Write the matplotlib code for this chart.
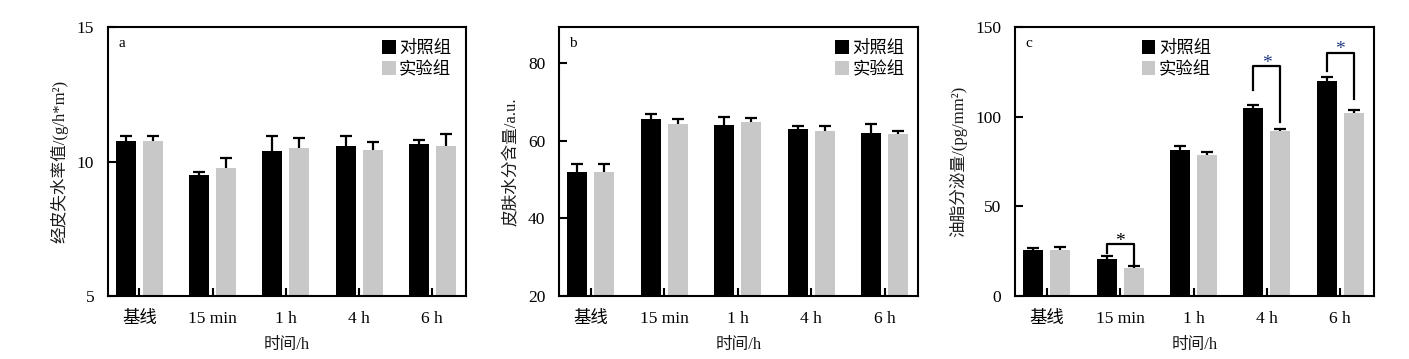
import numpy as np
import matplotlib.pyplot as plt

plt.rcParams["font.family"] = ["Liberation Serif", "Noto Sans CJK SC"]

# data
groups = ["基线", "15 min", "1 h", "4 h", "6 h"]
series = ["对照组", "实验组"]

tewl_ctrl = [10.75, 9.49, 10.39, 10.58, 10.64]
tewl_ctrl_err = [0.20, 0.13, 0.56, 0.37, 0.16]
tewl_exp = [10.75, 9.75, 10.50, 10.43, 10.58]
tewl_exp_err = [0.21, 0.39, 0.38, 0.29, 0.44]

water_ctrl = [51.9, 65.6, 64.0, 63.2, 62.0]
water_ctrl_err = [2.1, 1.4, 2.1, 0.6, 2.4]
water_exp = [51.9, 64.3, 64.8, 62.5, 61.7]
water_exp_err = [2.1, 1.4, 1.1, 1.3, 0.9]

sebum_ctrl = [25.6, 20.4, 81.2, 105.1, 119.8]
sebum_ctrl_err = [0.9, 2.0, 2.6, 1.3, 2.2]
sebum_exp = [25.6, 15.6, 78.6, 91.9, 101.8]
sebum_exp_err = [1.9, 1.3, 1.6, 1.3, 2.0]

# significance brackets on panel c
sig_idx = [1, 3, 4]
sig_top = [29.1, 128.3, 135.7]
sig_left_bottom = [23.8, 114.8, 125.3]
sig_right_bottom = [16.9, 97.1, 109.6]
sig_colors = ["black", "#1f3a80", "#1f3a80"]

panels = [
    dict(tag="a", ctrl=tewl_ctrl, ce=tewl_ctrl_err, exp=tewl_exp, ee=tewl_exp_err,
         ylabel="经皮失水率值/(g/h*m²)", ylim=(5, 15), yticks=[5, 10, 15],
         left=108, right=466, leg_x=0.765),
    dict(tag="b", ctrl=water_ctrl, ce=water_ctrl_err, exp=water_exp, ee=water_exp_err,
         ylabel="皮肤水分含量/a.u.", ylim=(20, 89.4), yticks=[20, 40, 60, 80],
         left=559.3, right=918.3, leg_x=0.768),
    dict(tag="c", ctrl=sebum_ctrl, ce=sebum_ctrl_err, exp=sebum_exp, ee=sebum_exp_err,
         ylabel="油脂分泌量/(pg/mm²)", ylim=(0, 150), yticks=[0, 50, 100, 150],
         left=1015.3, right=1374, leg_x=0.352),
]

W, H = 1409, 359
fig = plt.figure(figsize=(W / 100, H / 100), dpi=100)

x = np.arange(len(groups))
bw = 0.273
off = 0.185
gray = "#c8c8c8"

for p in panels:
    ax = fig.add_axes([p["left"] / W, 1 - 296 / H, (p["right"] - p["left"]) / W, 269 / H])
    ax.bar(x - off, p["ctrl"], bw, color="black", label=series[0], zorder=2)
    ax.bar(x + off, p["exp"], bw, color=gray, label=series[1], zorder=2)
    for xs, v, e in [(x - off, p["ctrl"], p["ce"]), (x + off, p["exp"], p["ee"])]:
        eb = ax.errorbar(xs, v, yerr=[np.zeros(len(v)), e], fmt="none", ecolor="black",
                         elinewidth=1.6, capsize=4, capthick=1.6, zorder=3)
        eb[1][0].set_visible(False)

    ax.set_xlim(-0.43, 4.46)
    ax.set_ylim(*p["ylim"])
    ax.set_yticks(p["yticks"])
    ax.set_xticks(x)
    ax.set_xticklabels(groups)
    ax.tick_params(axis="both", direction="in", length=6, width=1.5, labelsize=12.5, colors="black")
    ax.tick_params(axis="y", pad=10)
    ax.tick_params(axis="x", pad=11)
    for s in ax.spines.values():
        s.set_linewidth(1.5)

    ax.set_xlabel("时间/h", fontsize=12, color="#1a1a1a", labelpad=7)
    ax.set_ylabel(p["ylabel"], fontsize=12, color="#1a1a1a", labelpad=6)
    ax.text(0.028, 0.94, p["tag"], transform=ax.transAxes, fontsize=11, va="center")
    ax.legend(loc="upper left", bbox_to_anchor=(p["leg_x"], 0.95), frameon=False,
              fontsize=12.5, handlelength=0.8, handleheight=0.8, handletextpad=0.2,
              labelspacing=0.25, borderpad=0, borderaxespad=0)

    if p["tag"] == "c":
        for i, top, lb, rb, col in zip(sig_idx, sig_top, sig_left_bottom, sig_right_bottom, sig_colors):
            ax.plot([i - off, i - off, i + off, i + off], [lb, top, top, rb],
                    color="black", lw=1.6, zorder=4)
            ax.text(i, top - 1.0, "*", ha="center", va="baseline", fontsize=14, color=col)

fig.savefig("out.png", dpi=100)
